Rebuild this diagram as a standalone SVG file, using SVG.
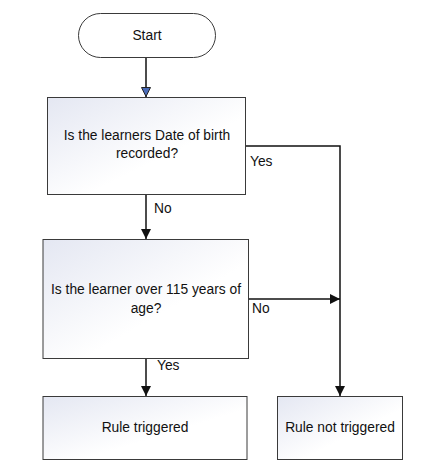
<svg xmlns="http://www.w3.org/2000/svg" width="447" height="474" viewBox="0 0 447 474">
<style>
  .box { stroke: #3a3a3a; stroke-width: 1; fill: url(#g); }
  .term { stroke: #3a3a3a; stroke-width: 1; fill: #ffffff; }
  .t { font-family: "Liberation Sans", Arial, sans-serif; font-size: 13.8px; fill: #111; }
  .c { text-anchor: middle; }
  .conn { stroke: #111; stroke-width: 1.5; fill: none; }
</style>
<defs>
  <linearGradient id="g" x1="0" y1="0" x2="1" y2="1">
    <stop offset="0" stop-color="#e4e7f2"/>
    <stop offset="0.6" stop-color="#ffffff"/>
    <stop offset="1" stop-color="#ffffff"/>
  </linearGradient>
  <marker id="ab" viewBox="0 0 10 10" refX="10" refY="5" markerWidth="10" markerHeight="10" markerUnits="userSpaceOnUse" orient="auto">
    <path d="M0,0 L10,5 L0,10 Z" fill="#111"/>
  </marker>
  <marker id="ablue" viewBox="0 0 10 10" refX="10" refY="5" markerWidth="10" markerHeight="10" markerUnits="userSpaceOnUse" orient="auto">
    <path d="M0.5,0.5 L9.5,5 L0.5,9.5 Z" fill="#4a6bb8" stroke="#222" stroke-width="1"/>
  </marker>
</defs>
<rect width="447" height="474" fill="#ffffff"/>
<g id="connectors">
  <line class="conn" x1="146" y1="58" x2="146" y2="97" marker-end="url(#ablue)"/>
  <polyline class="conn" points="246,146 340,146 340,396" marker-end="url(#ab)"/>
  <line class="conn" x1="146" y1="195" x2="146" y2="239" marker-end="url(#ab)"/>
  <line class="conn" x1="249" y1="299" x2="340" y2="299" marker-end="url(#ab)"/>
  <line class="conn" x1="146" y1="359" x2="146" y2="396" marker-end="url(#ab)"/>
  <text class="t" x="250" y="166">Yes</text>
  <text class="t" x="154" y="213">No</text>
  <text class="t" x="252" y="313">No</text>
  <text class="t" x="157" y="370">Yes</text>
</g>
<g id="start">
  <rect class="term" x="78.5" y="13.5" width="137" height="44" rx="22"/>
  <text class="t c" x="147" y="40">Start</text>
</g>
<g id="q1">
  <rect class="box" x="47.5" y="97.5" width="198" height="97"/>
  <text class="t c" x="147" y="140">Is the learners Date of birth</text>
  <text class="t c" x="147" y="158">recorded?</text>
</g>
<g id="q2">
  <rect class="box" x="43" y="239.5" width="205.5" height="119"/>
  <text class="t c" x="146" y="294">Is the learner over 115 years of</text>
  <text class="t c" x="146" y="313">age?</text>
</g>
<g id="triggered">
  <rect class="box" x="43" y="396.5" width="204" height="63"/>
  <text class="t c" x="145" y="432">Rule triggered</text>
</g>
<g id="not-triggered">
  <rect class="box" x="277.5" y="396.5" width="125" height="63"/>
  <text class="t c" x="340" y="432">Rule not triggered</text>
</g>
</svg>
